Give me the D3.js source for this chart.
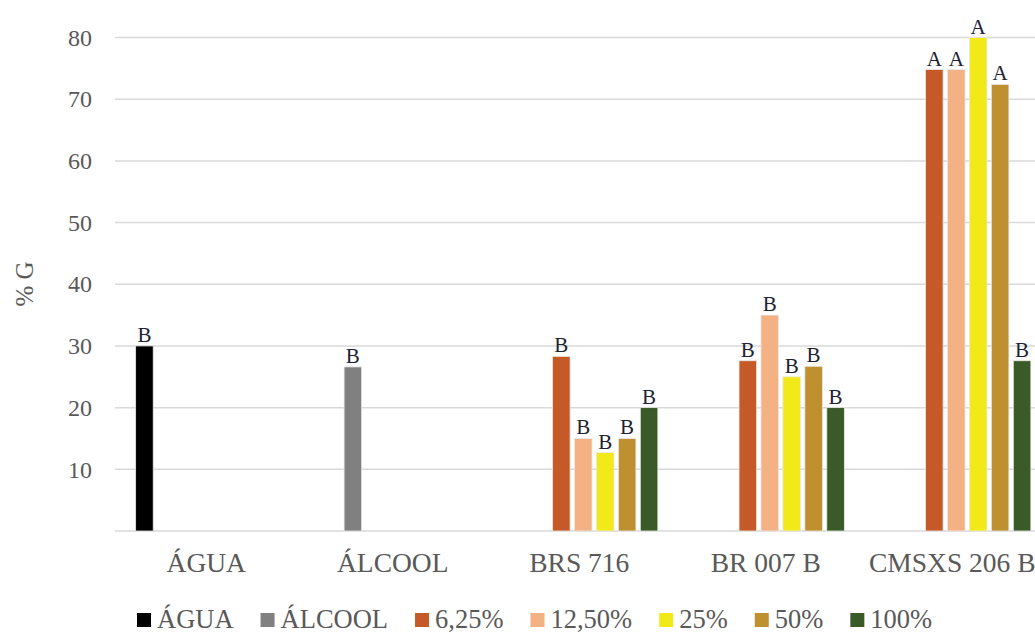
<!DOCTYPE html>
<html>
<head>
<meta charset="utf-8">
<script src="https://cdn.jsdelivr.net/npm/d3@7"></script>
<style>
  body { margin: 0; background: #fff; }
  svg { display: block; font-family: "Liberation Serif", "Times New Roman", serif; }
</style>
</head>
<body>
<svg id="chart"></svg>
<script>
// chart values
const categories = ["ÁGUA", "ÁLCOOL", "BRS 716", "BR 007 B", "CMSXS 206 B"];
const seriesNames = ["ÁGUA", "ÁLCOOL", "6,25%", "12,50%", "25%", "50%", "100%"];
const seriesColors = ["#000000", "#808080", "#c55a28", "#f4b183", "#f2ea18", "#bf902f", "#3a5a28"];

// one array per series, one value per category (null = no bar)
const agua    = [30, null, null, null, null];
const alcool  = [null, 26.6, null, null, null];
const d625    = [null, null, 28.3, 27.6, 74.8];
const d1250   = [null, null, 15, 35, 74.8];
const d25     = [null, null, 12.7, 25, 80];
const d50     = [null, null, 15, 26.7, 72.4];
const d100    = [null, null, 20, 20, 27.6];
const seriesValues = [agua, alcool, d625, d1250, d25, d50, d100];

// significance letters above each bar
const letters625  = [null, null, "B", "B", "A"];
const letters1250 = [null, null, "B", "B", "A"];
const letters25   = [null, null, "B", "B", "A"];
const letters50   = [null, null, "B", "B", "A"];
const letters100  = [null, null, "B", "B", "B"];
const seriesLetters = [
  ["B", null, null, null, null],
  [null, "B", null, null, null],
  letters625, letters1250, letters25, letters50, letters100
];

const yTicks = [10, 20, 30, 40, 50, 60, 70, 80];

const W = 1035, H = 634;
const svg = d3.select("#chart").attr("width", W).attr("height", H);

// scales
const x0 = d3.scaleBand().domain(categories).range([117, 1049.5]);
const x1 = d3.scaleBand().domain(d3.range(seriesNames.length))
    .range([0, x0.bandwidth()]).paddingInner(0.2).paddingOuter(0.85);
const y = d3.scaleLinear().domain([0, 80]).range([531, 37.5]);

// gridlines
svg.append("g")
  .selectAll("line")
  .data([0].concat(yTicks))
  .join("line")
    .attr("x1", 115).attr("x2", W)
    .attr("y1", d => y(d)).attr("y2", d => y(d))
    .attr("stroke", "#d9d9d9")
    .attr("stroke-width", 1.5);

// y axis labels
const yAxis = svg.append("g")
    .attr("transform", "translate(92,0)")
    .call(d3.axisLeft(y).tickValues(yTicks).tickSize(0).tickPadding(0));
yAxis.select(".domain").remove();
yAxis.selectAll("text")
    .attr("font-family", "Liberation Serif, serif")
    .attr("font-size", 24)
    .attr("fill", "#595959");

// y title
svg.append("text")
    .attr("transform", "translate(33,284) rotate(-90)")
    .attr("text-anchor", "middle")
    .attr("font-size", 25)
    .attr("fill", "#595959")
    .text("% G");

// x axis labels
const xAxis = svg.append("g")
    .attr("transform", "translate(-4,552)")
    .call(d3.axisBottom(x0).tickSize(0).tickPadding(0));
xAxis.select(".domain").remove();
xAxis.selectAll("text")
    .attr("font-family", "Liberation Serif, serif")
    .attr("font-size", 27.5)
    .attr("fill", "#595959");

// bars
seriesValues.forEach((vals, si) => {
  const g = svg.append("g");
  const rows = categories.map((c, ci) => ({ c, v: vals[ci], l: seriesLetters[si][ci] }))
      .filter(d => d.v != null);
  g.selectAll("rect")
    .data(rows)
    .join("rect")
      .attr("x", d => x0(d.c) + x1(si))
      .attr("y", d => y(d.v))
      .attr("width", x1.bandwidth())
      .attr("height", d => y(0) - y(d.v))
      .attr("fill", seriesColors[si])
      .attr("stroke", "#e8e8e8")
      .attr("stroke-width", 0.8);
  g.selectAll("text")
    .data(rows.filter(d => d.l))
    .join("text")
      .attr("x", d => x0(d.c) + x1(si) + x1.bandwidth() / 2)
      .attr("y", d => y(d.v) - 4)
      .attr("text-anchor", "middle")
      .attr("font-size", 21)
      .attr("fill", "#1c2233")
      .text(d => d.l);
});

// legend
const legend = svg.append("g").attr("transform", "translate(137,619)");
let lx = 0;
seriesNames.forEach((name, i) => {
  const item = legend.append("g").attr("transform", `translate(${lx},0)`);
  item.append("rect")
      .attr("x", 0).attr("y", -6)
      .attr("width", 14).attr("height", 14)
      .attr("fill", seriesColors[i]);
  const t = item.append("text")
      .attr("x", 20).attr("y", 9)
      .attr("font-size", 26.5)
      .attr("fill", "#595959")
      .text(name);
  lx += 20 + t.node().getComputedTextLength() + 27;
});
</script>
</body>
</html>
